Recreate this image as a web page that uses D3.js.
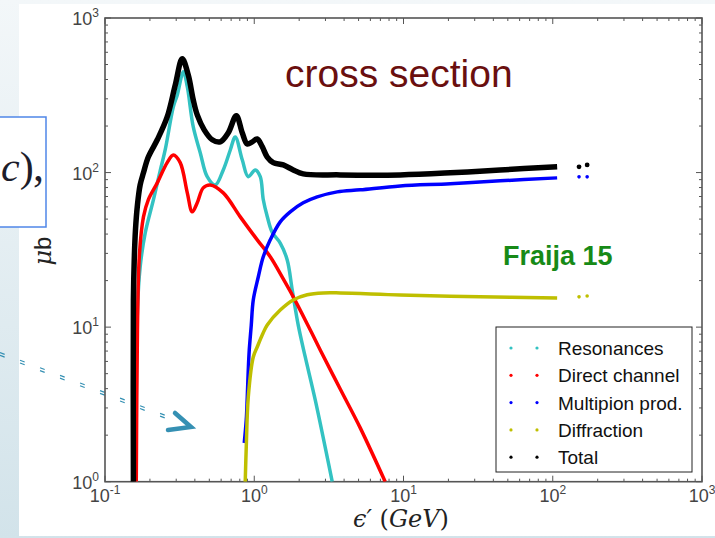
<!DOCTYPE html>
<html><head><meta charset="utf-8">
<script src="https://cdn.jsdelivr.net/npm/d3@7"></script>
<style>html,body{margin:0;padding:0;background:#fff;overflow:hidden}</style>
</head><body><svg id="c" width="715" height="538"></svg>
<script>
// ---- data ----
const categories = ["Resonances", "Direct channel", "Multipion prod.", "Diffraction", "Total"];
const seriesColors = ["#33c2c2", "#ff0000", "#0000ff", "#bfbf00", "#000000"];
const xTickValues = [0.1, 1, 10, 100, 1000];
const xTickExponents = ["-1", "0", "1", "2", "3"];
const yTickValues = [1, 10, 100, 1000];
const yTickExponents = ["0", "1", "2", "3"];

// [epsilon' (GeV), sigma (microbarn)]
const resonances = [[0.162,1],[0.165,12.9],[0.172,24.5],[0.186,40.7],[0.211,66.6],[0.235,104],[0.253,140],[0.287,266],[0.305,318],[0.335,449],[0.356,359],[0.390,198],[0.435,134],[0.484,94],[0.548,83],[0.620,104],[0.691,140],[0.746,170],[0.831,121],[0.912,94],[1.016,104],[1.097,94],[1.149,67],[1.222,52],[1.320,41],[1.493,35],[1.663,27.2],[1.797,17.4],[1.971,10.3],[2.196,6.41],[2.562,3.38],[3.33,1]];
const directChannel = [[0.162,1],[0.165,9.6],[0.170,29.3],[0.181,51.7],[0.195,66.6],[0.224,85.8],[0.261,116],[0.287,130],[0.319,116],[0.356,73.9],[0.384,55.7],[0.415,63.7],[0.455,79.6],[0.507,83.2],[0.620,73.9],[0.806,51.7],[1.047,36.7],[1.280,28.5],[1.564,20.5],[1.825,15.7],[2.265,10.49],[2.767,7.12],[3.767,3.98],[5.13,2.23],[7.54,1]];
const multipion = [[0.857,1.78],[0.884,2.51],[0.898,3.53],[0.912,5.29],[0.926,7.12],[0.955,10.3],[0.985,15.0],[1.064,21.1],[1.149,28.5],[1.280,36.7],[1.493,48.0],[1.742,55.7],[2.129,63.7],[2.642,69.6],[3.596,75.0],[5.13,77.3],[9.50,82.0],[20.6,84.6],[44.4,88.4],[107,92.4]];
const diffraction = [[0.870,1],[0.884,1.68],[0.912,3.53],[0.985,6.41],[1.047,7.44],[1.131,8.90],[1.222,10.33],[1.493,12.9],[1.825,15.0],[2.265,16.2],[2.899,16.65],[3.77,16.65],[9.50,16.16],[32.6,15.7],[107,15.45]];
const total = [[0.155,1],[0.155,15.0],[0.157,27.2],[0.160,42.6],[0.165,61.8],[0.172,83.2],[0.181,99.6],[0.195,126],[0.224,163],[0.261,229],[0.296,370],[0.329,544],[0.361,429],[0.390,296],[0.415,236],[0.462,189],[0.523,163],[0.592,158],[0.670,181],[0.758,233],[0.831,181],[0.898,153],[0.970,158],[1.047,165],[1.131,147],[1.222,126],[1.341,116],[1.564,112],[1.825,104],[2.129,98],[3.77,96.6],[9.5,96.6],[20.6,99.6],[44.4,104],[107,109]];
const multipionTail = [[150,93.8],[170,93.8]];
const diffractionTail = [[150,15.7],[170,15.9]];
const totalTail = [[150,109],[170,112]];

// ---- drawing ----
const svg = d3.select("#c");
const defs = svg.append("defs");
const grad = defs.append("linearGradient").attr("id","bg").attr("x1",0).attr("y1",0).attr("x2",0).attr("y2",1);
grad.append("stop").attr("offset","0").attr("stop-color","#f3f7f9");
grad.append("stop").attr("offset","1").attr("stop-color","#d2e3ea");
svg.append("rect").attr("width",715).attr("height",538).attr("fill","url(#bg)");
svg.append("rect").attr("x",19).attr("y",4).attr("width",696).attr("height",532).attr("fill","#ffffff");

// slide fragment on the left
svg.append("rect").attr("x",-5).attr("y",117).attr("width",51).attr("height",110)
  .attr("fill","#fff").attr("stroke","#4f86e8").attr("stroke-width",1.5);
const frag = svg.append("text").attr("x",1).attr("y",181).attr("font-family","Liberation Serif").attr("font-size",42).attr("fill","#1d1d2b");
frag.append("tspan").attr("font-style","italic").text("c");
frag.append("tspan").text(")");
svg.append("text").attr("x",33).attr("y",181).attr("font-family","Liberation Serif").attr("font-size",44).attr("fill","#1d1d2b").text(",");

// dashed arrow
const arrowColor = "#3590b3";
[-1.4, 1.4].forEach(off => {
  svg.append("line").attr("x1",0).attr("y1",354+off).attr("x2",166).attr("y2",417+off)
    .attr("stroke",arrowColor).attr("stroke-width",1.2).attr("stroke-dasharray","5 16.4");
});
svg.append("polyline").attr("points","175,413 191,427 168,430").attr("fill","none")
  .attr("stroke",arrowColor).attr("stroke-width",4.5).attr("stroke-linejoin","miter").attr("stroke-linecap","round");

// scales
const L = 105, R = 702, T = 18, B = 481.7;
const x = d3.scaleLog().domain([0.1, 1000]).range([L, R]);
const y = d3.scaleLog().domain([1, 1000]).range([B, T]);

defs.append("clipPath").attr("id","clip").append("rect").attr("x",L).attr("y",T).attr("width",R-L).attr("height",B-T);

// axes frame and ticks (inward, all four sides)
const axisColor = "#555";
const g = svg.append("g");
const minorX = [], minorY = [];
for (let k = -1; k <= 2; k++) for (let m = 2; m <= 9; m++) minorX.push(m * Math.pow(10, k));
for (let k = 0; k <= 2; k++) for (let m = 2; m <= 9; m++) minorY.push(m * Math.pow(10, k));
const tickG = g.append("g").attr("stroke",axisColor).attr("stroke-width",1);
xTickValues.forEach(v => { const px = x(v);
  tickG.append("line").attr("x1",px).attr("x2",px).attr("y1",B).attr("y2",B-6);
  tickG.append("line").attr("x1",px).attr("x2",px).attr("y1",T).attr("y2",T+6); });
minorX.forEach(v => { const px = x(v);
  tickG.append("line").attr("x1",px).attr("x2",px).attr("y1",B).attr("y2",B-3);
  tickG.append("line").attr("x1",px).attr("x2",px).attr("y1",T).attr("y2",T+3); });
yTickValues.forEach(v => { const py = y(v);
  tickG.append("line").attr("x1",L).attr("x2",L+6).attr("y1",py).attr("y2",py);
  tickG.append("line").attr("x1",R).attr("x2",R-6).attr("y1",py).attr("y2",py); });
minorY.forEach(v => { const py = y(v);
  tickG.append("line").attr("x1",L).attr("x2",L+3).attr("y1",py).attr("y2",py);
  tickG.append("line").attr("x1",R).attr("x2",R-3).attr("y1",py).attr("y2",py); });

// tick labels
const tickFont = "Liberation Sans, Arial, sans-serif";
xTickValues.forEach((v, i) => {
  const t = svg.append("text").attr("x", x(v)).attr("y", 502).attr("text-anchor","middle")
    .attr("font-family", tickFont).attr("font-size", 18).attr("fill", "#444");
  t.append("tspan").text("10");
  t.append("tspan").attr("font-size", 12).attr("dy", -8).text(xTickExponents[i]);
});
yTickValues.forEach((v, i) => {
  const t = svg.append("text").attr("x", 99).attr("y", y(v) + 7).attr("text-anchor","end")
    .attr("font-family", tickFont).attr("font-size", 18).attr("fill", "#444");
  t.append("tspan").text("10");
  t.append("tspan").attr("font-size", 12).attr("dy", -8).text(yTickExponents[i]);
});

// curves
const line = d3.line().x(d => x(d[0])).y(d => y(d[1])).curve(d3.curveCatmullRom.alpha(0.5));
const plot = svg.append("g").attr("clip-path","url(#clip)");
const seriesData = [resonances, directChannel, multipion, diffraction, total];
const widths = [3.5, 3.5, 3.5, 3.5, 5.5];
seriesData.forEach((d, i) => {
  plot.append("path").attr("d", line(d)).attr("fill","none").attr("stroke", seriesColors[i])
    .attr("stroke-width", widths[i]).attr("stroke-linejoin","round");
});
[[multipionTail, 2, 1.8], [diffractionTail, 3, 1.8], [totalTail, 4, 2.4]].forEach(([d, ci, r]) => {
  plot.selectAll(null).data(d).enter().append("circle")
    .attr("cx", p => x(p[0])).attr("cy", p => y(p[1])).attr("r", r).attr("fill", seriesColors[ci]);
});

// frame
g.append("rect").attr("x",L).attr("y",T).attr("width",R-L).attr("height",B-T)
  .attr("fill","none").attr("stroke",axisColor).attr("stroke-width",1.6);

// legend
const lg = svg.append("g");
lg.append("rect").attr("x",496).attr("y",327).attr("width",196).attr("height",145)
  .attr("fill","#fff").attr("stroke","#222").attr("stroke-width",1);
categories.forEach((c, i) => {
  const cy = 348 + i * 27.3;
  [511, 537].forEach(cx => lg.append("circle").attr("cx",cx).attr("cy",cy).attr("r",1.6).attr("fill",seriesColors[i]));
  lg.append("text").attr("x",558).attr("y",cy+7).attr("font-family",tickFont).attr("font-size",19).attr("fill","#111").text(c);
});

// annotations
svg.append("text").attr("x",285).attr("y",87).attr("font-family",tickFont).attr("font-size",39)
  .attr("fill","#6a0f0f").text("cross section");
svg.append("text").attr("x",503).attr("y",265).attr("font-family",tickFont).attr("font-size",27)
  .attr("font-weight","bold").attr("fill","#178a17").text("Fraija 15");

// axis labels
const xl = svg.append("text").attr("x",353).attr("y",527).attr("font-family","DejaVu Serif, serif")
  .attr("font-size",24).attr("fill","#222");
xl.append("tspan").attr("font-style","italic").text("\u03F5\u2032");
xl.append("tspan").text(" (");
xl.append("tspan").attr("font-style","italic").text("GeV");
xl.append("tspan").text(")");
const yl = svg.append("text").attr("transform","translate(51,251) rotate(-90)").attr("text-anchor","middle")
  .attr("font-size",24).attr("fill","#222");
yl.append("tspan").attr("font-family","DejaVu Serif, serif").attr("font-style","italic").text("\u03BC");
yl.append("tspan").attr("font-family",tickFont).text("b");
</script></body></html>
